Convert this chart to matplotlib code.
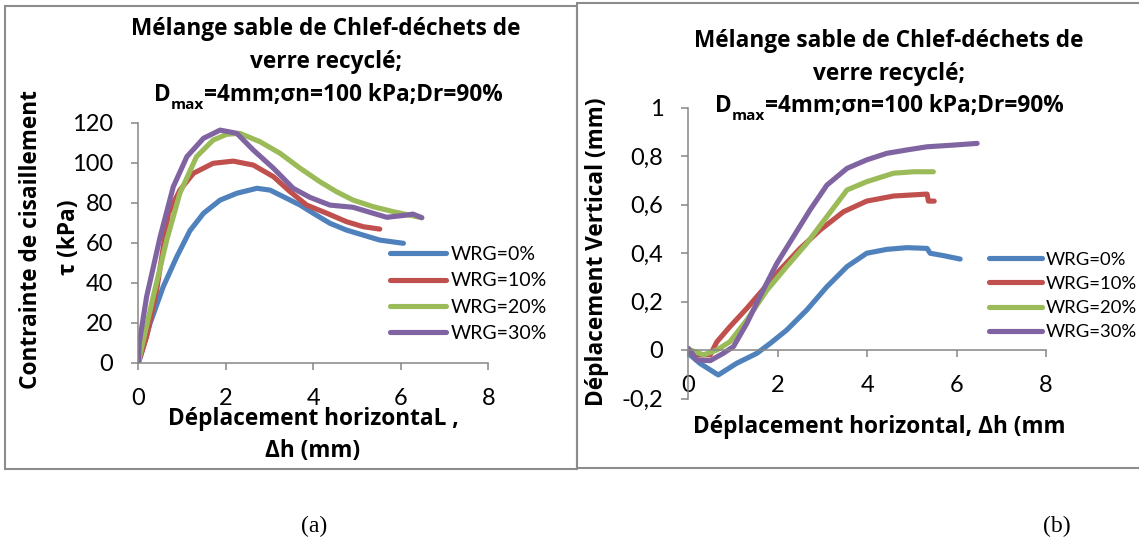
import matplotlib
matplotlib.use("Agg")
import matplotlib.pyplot as plt
from matplotlib.patches import Rectangle
from matplotlib.text import Annotation
from matplotlib.ticker import MultipleLocator, FuncFormatter

plt.rcParams['font.family'] = ['Lato', 'DejaVu Sans']
BOLD = ['Open Sans', 'DejaVu Sans']

W, H = 1139, 548

labels = ['WRG=0%', 'WRG=10%', 'WRG=20%', 'WRG=30%']
colors = ['#4F81BD', '#C0504D', '#9BBB59', '#8064A2']

# (a) shear stress tau (kPa) vs horizontal displacement dh (mm)
dh_a0 = [0, 0.05, 0.27, 0.57, 0.88, 1.18, 1.49, 1.87, 2.25, 2.71, 3.01, 3.39, 3.70, 4.00, 4.38, 4.76, 5.14, 5.52, 6.06]
tau_0 = [0, 3, 19.7, 38, 53, 66, 74.7, 81.3, 84.7, 87.2, 86.3, 82.2, 78.8, 74.7, 69.7, 66.3, 63.8, 61.3, 59.7]
dh_a10 = [0, 0.19, 0.42, 0.69, 0.95, 1.26, 1.71, 2.17, 2.63, 3.09, 3.47, 3.85, 4.31, 4.76, 5.14, 5.52]
tau_10 = [0, 13, 36.3, 74.7, 86.3, 94.7, 99.7, 100.8, 98.8, 93, 85.5, 78.8, 74.7, 70.5, 68, 66.8]
dh_a20 = [0, 0.03, 0.34, 0.65, 0.95, 1.33, 1.71, 2.02, 2.32, 2.78, 3.24, 3.70, 4.15, 4.53, 4.91, 5.37, 5.83, 6.48]
tau_20 = [0, 3, 33, 61.3, 84.7, 103, 111.3, 114.2, 114.7, 110.5, 104.7, 97.2, 90.5, 85.5, 81.3, 78, 75.5, 72.5]
dh_a30 = [0, 0.02, 0.19, 0.5, 0.8, 1.11, 1.49, 1.87, 2.25, 2.63, 3.09, 3.54, 3.92, 4.38, 4.91, 5.37, 5.68, 6.13, 6.28, 6.48]
tau_30 = [0, 9.7, 33, 63, 88, 103, 112.2, 116.3, 114.7, 106.3, 97.2, 87.2, 82.7, 78.8, 77.7, 74.7, 72.7, 73.8, 74.3, 72.5]

# (b) vertical displacement dv (mm) vs horizontal displacement dh (mm)
dh_b0 = [0, 0.26, 0.67, 1.08, 1.53, 1.83, 2.2, 2.65, 3.1, 3.55, 3.99, 4.44, 4.89, 5.34, 5.41, 5.71, 6.08]
dv_0 = [-0.014, -0.055, -0.103, -0.055, -0.014, 0.027, 0.082, 0.165, 0.261, 0.344, 0.399, 0.415, 0.422, 0.419, 0.399, 0.389, 0.375]
dh_b10 = [0, 0.19, 0.49, 0.64, 0.93, 1.31, 1.6, 2.05, 2.5, 2.95, 3.47, 3.99, 4.59, 5.34, 5.37, 5.5]
dv_10 = [0, -0.02, -0.02, 0.034, 0.096, 0.172, 0.234, 0.33, 0.419, 0.495, 0.57, 0.614, 0.635, 0.643, 0.614, 0.614]
dh_b20 = [0, 0.34, 0.64, 0.93, 1.31, 1.76, 2.2, 2.65, 3.1, 3.55, 3.99, 4.59, 5.04, 5.48]
dv_20 = [0.003, -0.02, 0, 0.034, 0.124, 0.247, 0.344, 0.44, 0.55, 0.66, 0.694, 0.729, 0.735, 0.735]
dh_b30 = [0, 0.19, 0.49, 0.78, 1.01, 1.31, 1.6, 1.98, 2.35, 2.72, 3.1, 3.55, 3.99, 4.44, 4.89, 5.34, 5.93, 6.46]
dv_30 = [0.007, -0.041, -0.044, -0.014, 0.014, 0.11, 0.22, 0.357, 0.467, 0.577, 0.68, 0.749, 0.784, 0.811, 0.825, 0.838, 0.845, 0.852]

fig = plt.figure(figsize=(W / 100, H / 100), dpi=100)


def fx(x):
    return x / W


def fy(y):
    return 1 - y / H


def axes_px(x0, y0, x1, y1):
    # pixel box (left, top, right, bottom) -> figure axes
    return fig.add_axes([fx(x0), fy(y1), fx(x1) - fx(x0), fy(y0) - fy(y1)])


def style(ax):
    for s in ('top', 'right'):
        ax.spines[s].set_visible(False)
    for s in ('left', 'bottom'):
        ax.spines[s].set_color('#868686')
        ax.spines[s].set_linewidth(1.1)
    ax.tick_params(direction='out', length=5, width=1.1, color='#868686',
                   labelsize=17, pad=13)
    ax.patch.set_alpha(0)


comma = FuncFormatter(lambda v, p: f"{v:g}".replace('.', ','))
gray = '#8c8c8c'

# frames around each chart
fig.patches.append(Rectangle((fx(4.7), fy(469)), fx(577) - fx(4.7), fy(6) - fy(469),
                             transform=fig.transFigure, fill=False, ec=gray, lw=1.5))
fig.patches.append(Rectangle((fx(577), fy(467.7)), fx(1145) - fx(577), fy(2.7) - fy(467.7),
                             transform=fig.transFigure, fill=False, ec=gray, lw=1.5))

# ---- chart (a)
ax1 = axes_px(138.3, 122.7, 488.3, 362.7)
for x, y, c, lab in zip([dh_a0, dh_a10, dh_a20, dh_a30], [tau_0, tau_10, tau_20, tau_30], colors, labels):
    ax1.plot(x, y, color=c, lw=3.7, label=lab, solid_capstyle='round', solid_joinstyle='round')
ax1.set_xlim(0, 8)
ax1.set_ylim(0, 120)
ax1.xaxis.set_major_locator(MultipleLocator(2))
ax1.yaxis.set_major_locator(MultipleLocator(20))
style(ax1)
ax1.legend(loc='center left', bbox_to_anchor=(fx(390), fy(294)), bbox_transform=fig.transFigure,
           frameon=False, fontsize=14, handlelength=2.9, handletextpad=0.2,
           labelspacing=0.47, borderpad=0, borderaxespad=0)

# ---- chart (b)
ax2 = axes_px(688.3, 107.5, 1046, 398.5)
for x, y, c, lab in zip([dh_b0, dh_b10, dh_b20, dh_b30], [dv_0, dv_10, dv_20, dv_30], colors, labels):
    ax2.plot(x, y, color=c, lw=3.7, label=lab, solid_capstyle='round', solid_joinstyle='round')
ax2.set_xlim(0, 8)
ax2.set_ylim(-0.2, 1)
ax2.xaxis.set_major_locator(MultipleLocator(2))
ax2.yaxis.set_major_locator(MultipleLocator(0.2))
ax2.yaxis.set_major_formatter(comma)
ax2.xaxis.set_major_formatter(comma)
style(ax2)
ax2.spines['bottom'].set_position(('data', 0))
ax2.legend(loc='center left', bbox_to_anchor=(fx(988.7), fy(296)), bbox_transform=fig.transFigure,
           frameon=False, fontsize=13.3, handlelength=2.9, handletextpad=0.2,
           labelspacing=0.45, borderpad=0, borderaxespad=0)

# ---- titles
tsize = 16.3
title1 = 'Mélange sable de Chlef-déchets de'
title2 = 'verre recyclé;'
title3 = '=4mm;σn=100 kPa;Dr=90%'


def title(xc, base1, base2, base3, xd):
    kw = dict(fontsize=tsize, weight='bold', family=BOLD)
    fig.text(fx(xc), fy(base1), title1, ha='center', va='baseline', **kw)
    fig.text(fx(xc), fy(base2), title2, ha='center', va='baseline', **kw)
    d = fig.text(fx(xd), fy(base3), 'D', ha='left', va='baseline', **kw)
    m = fig.add_artist(Annotation('max', xy=(1, 0), xycoords=d, xytext=(0, -3.5),
                                  textcoords='offset points', ha='left', va='bottom',
                                  fontsize=tsize * 0.68, weight='bold', family=BOLD))
    fig.add_artist(Annotation(title3, xy=(1, 0), xycoords=(m, d), ha='left', va='bottom', **kw))


title(325.6, 35, 68, 101, 153.5)
title(888.8, 46.7, 80, 112, 715.3)

# ---- axis labels
lkw = dict(fontsize=16.3, weight='bold', family=BOLD, ha='center', va='center')
fig.text(fx(31.5), fy(240), 'Contrainte de cisaillement', rotation=90, **lkw)
fig.text(fx(68.5), fy(237.5), 'τ (kPa)', rotation=90, **lkw)
fig.text(fx(313.5), fy(419), 'Déplacement horizontaL ,', **lkw)
fig.text(fx(312.6), fy(451), 'Δh (mm)', **lkw)
fig.text(fx(596.6), fy(251.7), 'Déplacement Vertical (mm)', rotation=90, **lkw)
fig.text(fx(879), fy(427), 'Déplacement horizontal, Δh (mm', **lkw)

# ---- panel captions
fig.text(fx(314), fy(526), '(a)', ha='center', va='center', fontsize=17, family='Liberation Serif')
fig.text(fx(1057), fy(526), '(b)', ha='center', va='center', fontsize=17, family='Liberation Serif')

fig.savefig('out.png', dpi=100)
